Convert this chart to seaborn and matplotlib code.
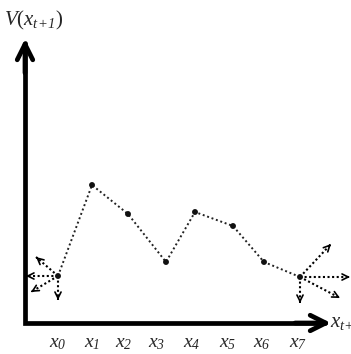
import matplotlib; matplotlib.use("Agg")
import matplotlib.pyplot as plt
import seaborn as sns
import pandas as pd

sns.set_style("white")
plt.rcParams["font.family"] = ["Liberation Serif", "DejaVu Serif"]
plt.rcParams["mathtext.fontset"] = "custom"
plt.rcParams["mathtext.rm"] = "Liberation Serif:italic"
plt.rcParams["mathtext.it"] = "Liberation Serif:italic"
plt.rcParams["mathtext.sf"] = "Liberation Serif"
plt.rcParams["mathtext.default"] = "it"

# ─── Data (axis origin at 0,0) ─────────────────────────────
states     = ["x0", "x1", "x2", "x3", "x4", "x5", "x6", "x7"]
state_pos  = [33, 67, 103, 141, 170, 208, 239, 275]
values     = [47, 138, 109, 61, 111, 97, 61, 46]
tick_pos   = [33, 67, 99, 132, 167, 203, 237, 273]
tick_lbls  = [r"$x_{%d}$" % i for i in range(8)]

# exploration arrows leaving the two end states
start_dirs = [(1, 47), (11, 66), (6, 31), (33, 23)]
end_dirs   = [(306, 79), (325, 46), (315, 25), (275, 20)]

df = pd.DataFrame({"x": state_pos, "V": values})

fig = plt.figure(figsize=(3.51, 3.54), dpi=100)
ax = fig.add_axes([0, 0, 1, 1])
ax.set_xlim(-25, 326); ax.set_ylim(-31, 323)
ax.axis("off")

sns.lineplot(data=df, x="x", y="V", ax=ax, color="#222222", lw=1.4,
             linestyle=(0, (1, 1.4)), sort=False)
sns.scatterplot(data=df, x="x", y="V", ax=ax, color="#111111", s=18,
                edgecolor="none", zorder=5)

def dotted_arrow(x0, y0, x1, y1):
    ax.plot([x0, x1], [y0, y1], color="black", lw=1.5, linestyle=(0, (1, 1.2)))
    dx, dy = x1 - x0, y1 - y0
    ax.annotate("", xy=(x1, y1), xytext=(x1 - dx * 0.05, y1 - dy * 0.05),
                arrowprops=dict(arrowstyle="->", color="black", lw=1.2,
                                mutation_scale=11, shrinkA=0, shrinkB=0))

for (ex, ey) in start_dirs:
    dotted_arrow(state_pos[0], values[0], ex, ey)
for (ex, ey) in end_dirs:
    dotted_arrow(state_pos[-1], values[-1], ex, ey)

# axes with open arrowheads
ax.plot([0, 0, 300], [280, 0, 0], color="black", lw=3.4, solid_joinstyle="miter")
ax.annotate("", xy=(0, 284), xytext=(0, 250),
            arrowprops=dict(arrowstyle="->", color="black", lw=3.4,
                            mutation_scale=28, shrinkA=0, shrinkB=0))
ax.annotate("", xy=(306, 0), xytext=(270, 0),
            arrowprops=dict(arrowstyle="->", color="black", lw=3.4,
                            mutation_scale=28, shrinkA=0, shrinkB=0))

for p, lbl in zip(tick_pos, tick_lbls):
    ax.text(p, -21, lbl, ha="center", va="center", fontsize=14)

ax.text(305, 0, r"$x_{t\!+\!1}$", ha="left", va="center", fontsize=15)
ax.text(-21, 303, r"$V\mathsf{(}x_{t\!+\!1}\mathsf{)}$", ha="left", va="center", fontsize=15)

plt.savefig("out.png", dpi=100)
